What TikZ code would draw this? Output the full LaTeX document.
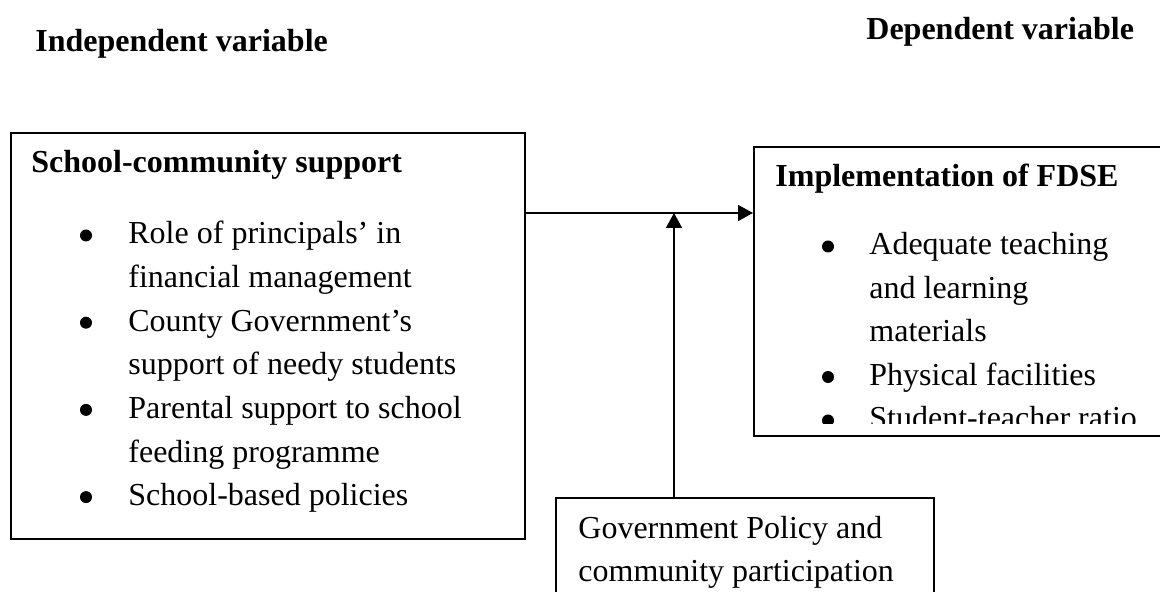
\documentclass[tikz,border=0pt]{standalone}
\usepackage{fontspec}
\setmainfont{Liberation Serif}
\usetikzlibrary{arrows.meta}

\begin{document}
\begin{tikzpicture}[x=0.5pt,y=-0.5pt,
  txt/.style={anchor=base west, inner sep=0pt, font=\fontsize{16}{20}\selectfont},
  head/.style={anchor=base west, inner sep=0pt, font=\fontsize{16}{20}\selectfont\bfseries},
  dot/.style={circle, fill=black, inner sep=0pt, minimum size=6pt},
  frame/.style={draw, line width=0.8pt, anchor=north west, inner sep=0pt},
  link/.style={line width=0.8pt, -{Triangle[length=7.5pt,width=8pt]}}]

\useasboundingbox (0,0) rectangle (1160,592);

% column headings
\node[head] (indep) at (35,52) {Independent variable};
\node[head] (dep) at (866,40) {Dependent variable};

% boxes
\node[frame, minimum width=257pt, minimum height=203pt] (ind) at (10,132) {};
\node[frame, minimum width=208.5pt, minimum height=144.5pt] (impl) at (753,146) {};
\node[frame, minimum width=189pt, minimum height=61.5pt] (gov) at (555,497) {};

% independent variable box
\node[head] (indT) at (31,173) {School-community support};
\node[dot] (b1) at (86,235.5) {};
\node[txt] (l1) at (128,244) {Role of principals’ in};
\node[txt] (l2) at (128,287.6) {financial management};
\node[dot] (b2) at (86,322.7) {};
\node[txt] (l3) at (128,331.2) {County Government’s};
\node[txt] (l4) at (128,374.8) {support of needy students};
\node[dot] (b3) at (86,409.9) {};
\node[txt] (l5) at (128,418.4) {Parental support to school};
\node[txt] (l6) at (128,462) {feeding programme};
\node[dot] (b4) at (86,497.1) {};
\node[txt] (l7) at (128,505.6) {School-based policies};

% dependent variable box (last line cut off by the text area)
\node[head] (implT) at (775,187) {Implementation of FDSE};
\begin{scope}
  \clip (760,150) rectangle (1160,424);
  \node[dot] (r1) at (828,246.5) {};
  \node[txt] (m1) at (869,255) {Adequate teaching};
  \node[txt] (m2) at (869,298.5) {and learning};
  \node[txt] (m3) at (869,342) {materials};
  \node[dot] (r2) at (828,377) {};
  \node[txt] (m4) at (869,385.5) {Physical facilities};
  \node[dot] (r3) at (828,420.5) {};
  \node[txt] (m5) at (869,429) {Student-teacher ratio};
\end{scope}

% intervening variable box
\node[txt] (g1) at (578,538) {Government Policy and};
\node[txt] (g2) at (578,581) {community participation};

% connectors
\coordinate (mid) at (674,213);
\draw[link] (ind.east |- mid) -- (impl.west |- mid);
\draw[link] (gov.north -| mid) -- (mid);
\end{tikzpicture}
\end{document}
